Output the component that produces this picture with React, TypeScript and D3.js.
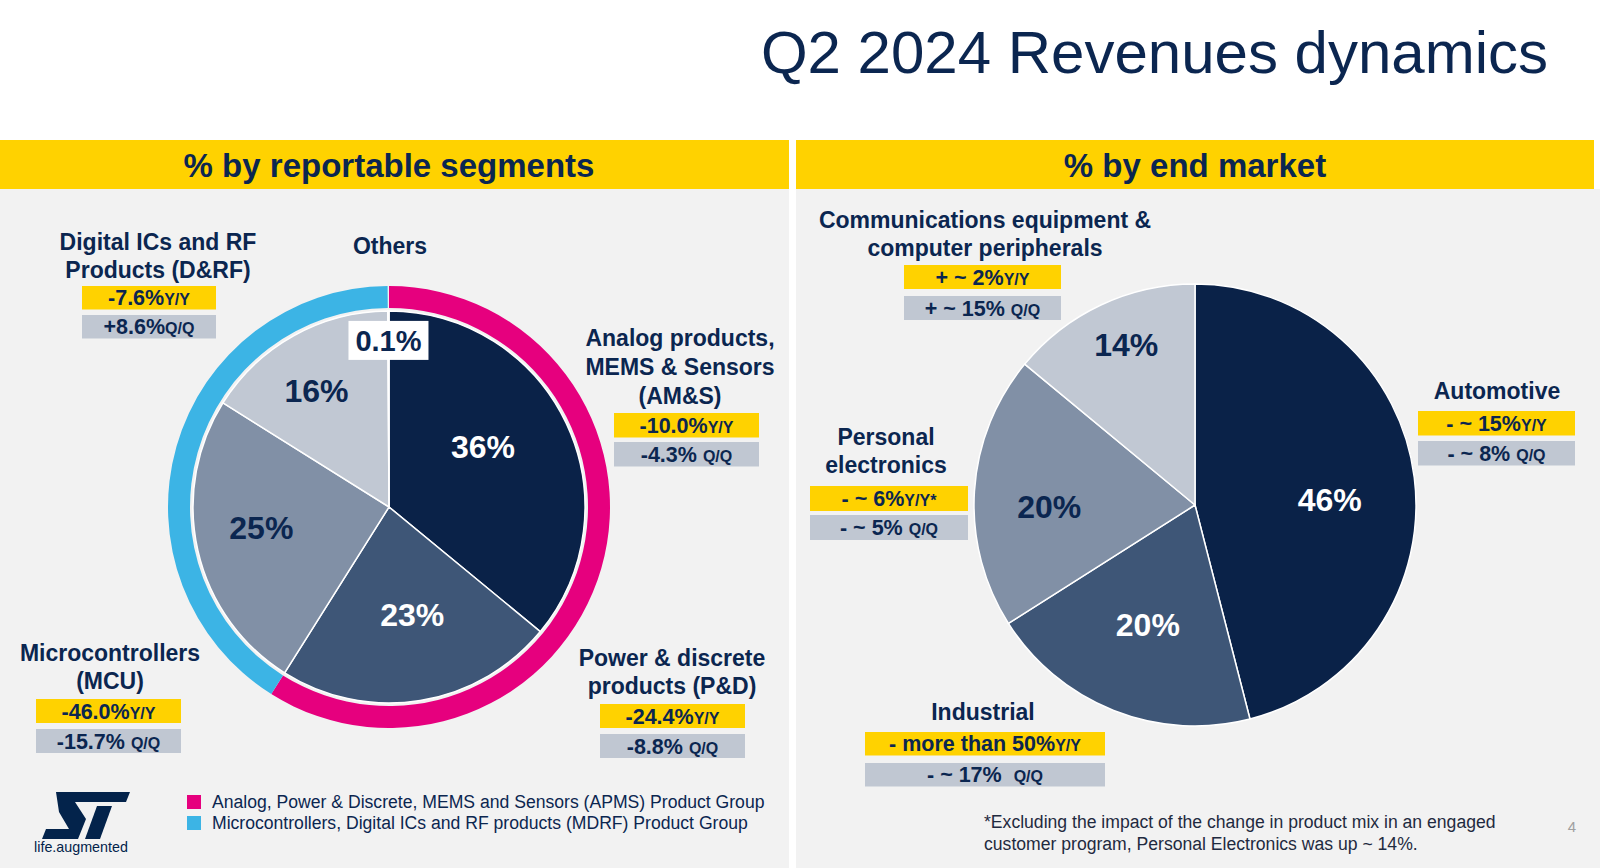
import React, { useEffect } from "react";
import * as d3 from "d3";

// ---------- DATA ----------
const segmentNames = [
  "Analog products, MEMS & Sensors (AM&S)",
  "Power & discrete products (P&D)",
  "Microcontrollers (MCU)",
  "Digital ICs and RF Products (D&RF)",
  "Others",
];
const segmentShares = [36, 23, 25, 16, 0.1];
const segmentShareLabels = ["36%", "23%", "25%", "16%", "0.1%"];
const segmentGroups = ["APMS", "APMS", "MDRF", "MDRF", ""];
const segmentYY = ["-10.0%", "-24.4%", "-46.0%", "-7.6%", ""];
const segmentQQ = ["-4.3% ", "-8.8% ", "-15.7% ", "+8.6%", ""];

const groupNames = ["APMS", "MDRF"];
const groupLegend = [
  "Analog, Power & Discrete, MEMS and Sensors (APMS) Product Group",
  "Microcontrollers, Digital ICs and RF products (MDRF) Product Group",
];

const marketNames = [
  "Automotive",
  "Industrial",
  "Personal electronics",
  "Communications equipment & computer peripherals",
];
const marketShares = [46, 20, 20, 14];
const marketShareLabels = ["46%", "20%", "20%", "14%"];
const marketYY = ["- ~ 15%", "- more than 50%", "- ~ 6%", "+ ~ 2%"];
const marketYYSuffix = ["Y/Y", "Y/Y", "Y/Y*", "Y/Y"];
const marketQQ = ["- ~ 8% ", "- ~ 17%  ", "- ~ 5% ", "+ ~ 15% "];

// ---------- STYLE ----------
const FONT = "'Liberation Sans', Arial, Helvetica, sans-serif";
const NAVY = "#0b2650";
const YELLOW = "#ffd200";
const GREYBOX = "#c0c7d2";
const PANEL = "#f2f2f2";
const sliceColors = ["#0a2248", "#3e5677", "#8190a6", "#c1c8d3", "#c1c8d3"];
const sliceTextColors = ["#ffffff", "#ffffff", NAVY, NAVY, NAVY];
const marketColors = ["#0a2248", "#3e5677", "#8190a6", "#c1c8d3"];
const marketTextColors = ["#ffffff", "#ffffff", NAVY, NAVY];
const groupColors: Record<string, string> = { APMS: "#e6007e", MDRF: "#3cb4e5" };
// label placement inside slices: radius as fraction of pie radius, angular nudge (degrees)
const segmentLabelRadius = [0.57, 0.56, 0.66, 0.7, 0.85];
const segmentLabelTurn = [-7.5, -3, 3.6, -2.8, 0];
const marketLabelRadius = [0.61, 0.58, 0.66, 0.79];
const marketLabelTurn = [5, 0, -4.3, 2];

// callout layouts (annotation placement)
const segmentCallouts = [
  { cx: 680, lines: ["Analog products,", "MEMS & Sensors", "(AM&S)"], y0: 346, lh: 29, bx: 614, bw: 145, yyTop: 413, qqTop: 442, bh: 24.5 },
  { cx: 672, lines: ["Power & discrete", "products (P&D)"], y0: 666, lh: 28, bx: 600, bw: 145, yyTop: 704, qqTop: 734, bh: 24 },
  { cx: 110, lines: ["Microcontrollers", "(MCU)"], y0: 661, lh: 28, bx: 36, bw: 145, yyTop: 699, qqTop: 729, bh: 24 },
  { cx: 158, lines: ["Digital ICs and RF", "Products (D&RF)"], y0: 250, lh: 27.5, bx: 82, bw: 134, yyTop: 286, qqTop: 315, bh: 23.5 },
  { cx: 390, lines: ["Others"], y0: 254, lh: 28, bx: 0, bw: 0, yyTop: 0, qqTop: 0, bh: 0 },
];
const marketCallouts = [
  { cx: 1497, lines: ["Automotive"], y0: 399, lh: 28, bx: 1418, bw: 157, yyTop: 411, qqTop: 441, bh: 24.5 },
  { cx: 983, lines: ["Industrial"], y0: 720, lh: 28, bx: 865, bw: 240, yyTop: 732, qqTop: 763, bh: 23.5 },
  { cx: 886, lines: ["Personal", "electronics"], y0: 445, lh: 27.5, bx: 810, bw: 158, yyTop: 486, qqTop: 515, bh: 25 },
  { cx: 985, lines: ["Communications equipment &", "computer peripherals"], y0: 227.5, lh: 28.5, bx: 904, bw: 157, yyTop: 265, qqTop: 296, bh: 24 },
];

function Callout({ c, yy, yySuffix, qq }: any) {
  return (
    <g>
      {c.lines.map((l: string, i: number) => (
        <text key={i} x={c.cx} y={c.y0 + i * c.lh} textAnchor="middle" fontSize={23} fontWeight="bold" fill={NAVY} fontFamily={FONT}>
          {l}
        </text>
      ))}
      {yy ? (
        <g>
          <rect x={c.bx} y={c.yyTop} width={c.bw} height={c.bh} fill={YELLOW} />
          <text x={c.bx + c.bw / 2} y={c.yyTop + c.bh / 2 + 7.5} textAnchor="middle" fontSize={21.5} fontWeight="bold" fill={NAVY} fontFamily={FONT} style={{ whiteSpace: "pre" }}>
            {yy}
            <tspan fontSize={16}>{yySuffix}</tspan>
          </text>
          <rect x={c.bx} y={c.qqTop} width={c.bw} height={c.bh} fill={GREYBOX} />
          <text x={c.bx + c.bw / 2} y={c.qqTop + c.bh / 2 + 7.5} textAnchor="middle" fontSize={21.5} fontWeight="bold" fill={NAVY} fontFamily={FONT} style={{ whiteSpace: "pre" }}>
            {qq}
            <tspan fontSize={16}>Q/Q</tspan>
          </text>
        </g>
      ) : null}
    </g>
  );
}

function labelPos(a: any, r: number, turnDeg: number) {
  const ang = (a.startAngle + a.endAngle) / 2 + (turnDeg * Math.PI) / 180;
  return [Math.sin(ang) * r, -Math.cos(ang) * r];
}

export default function App() {
  useEffect(() => {
    document.body.style.margin = "0";
  }, []);

  const W = 1600;
  const H = 868;

  // left pie
  const lc = { x: 389, y: 507 };
  const lR = 196;
  const pie = d3.pie<number>().sort(null).value((d) => d);
  const lArcs = pie(segmentShares);
  const lArc = d3.arc<any>().innerRadius(0).outerRadius(lR);
  const ringArc = d3.arc<any>().innerRadius(199).outerRadius(221);
  const rings = groupNames.map((g) => {
    const sl = lArcs.filter((_, i) => segmentGroups[i] === g);
    return {
      g,
      startAngle: d3.min(sl, (s) => s.startAngle) as number,
      endAngle: d3.max(sl, (s) => s.endAngle) as number,
    };
  });

  // right pie
  const rc = { x: 1195, y: 505 };
  const rR = 221;
  const rArcs = pie(marketShares);
  const rArc = d3.arc<any>().innerRadius(0).outerRadius(rR);

  return (
    <svg width={W} height={H} style={{ position: "absolute", left: 0, top: 0, display: "block" }} fontFamily={FONT}>
      <rect x={0} y={0} width={W} height={H} fill="#ffffff" />
      {/* Title */}
      <text x={1548} y={73} textAnchor="end" fontSize={60} fill={NAVY} fontFamily={FONT}>
        Q2 2024 Revenues dynamics
      </text>

      {/* Panels */}
      <rect x={0} y={189} width={789} height={H - 189} fill={PANEL} />
      <rect x={796} y={189} width={W - 796} height={H - 189} fill={PANEL} />
      <rect x={0} y={140} width={789} height={49} fill={YELLOW} />
      <rect x={796} y={140} width={798} height={49} fill={YELLOW} />
      <text x={389} y={177} textAnchor="middle" fontSize={33} fontWeight="bold" fill={NAVY}>
        % by reportable segments
      </text>
      <text x={1195} y={177} textAnchor="middle" fontSize={33} fontWeight="bold" fill={NAVY}>
        % by end market
      </text>

      {/* Left pie */}
      <g transform={`translate(${lc.x},${lc.y})`}>
        {rings.map((r) => (
          <path key={r.g} d={ringArc(r) as string} fill={groupColors[r.g]} />
        ))}
        {lArcs.map((a, i) => (
          <path key={i} d={lArc(a) as string} fill={sliceColors[i]} stroke="#ffffff" strokeWidth={1.5} />
        ))}
        {lArcs.map((a, i) => {
          const [x, y] = labelPos(a, lR * segmentLabelRadius[i], segmentLabelTurn[i]);
          if (segmentNames[i] === "Others") {
            return (
              <g key={i}>
                <rect x={x - 40} y={y - 19.5} width={80} height={39} fill="#ffffff" />
                <text x={x} y={y} dy="0.36em" textAnchor="middle" fontSize={29} fontWeight="bold" fill={NAVY}>
                  {segmentShareLabels[i]}
                </text>
              </g>
            );
          }
          return (
            <text key={i} x={x} y={y} dy="0.36em" textAnchor="middle" fontSize={32} fontWeight="bold" fill={sliceTextColors[i]}>
              {segmentShareLabels[i]}
            </text>
          );
        })}
      </g>

      {/* Right pie */}
      <g transform={`translate(${rc.x},${rc.y})`}>
        {rArcs.map((a, i) => (
          <path key={i} d={rArc(a) as string} fill={marketColors[i]} stroke="#ffffff" strokeWidth={1.5} />
        ))}
        {rArcs.map((a, i) => {
          const [x, y] = labelPos(a, rR * marketLabelRadius[i], marketLabelTurn[i]);
          return (
            <text key={i} x={x} y={y} dy="0.36em" textAnchor="middle" fontSize={32} fontWeight="bold" fill={marketTextColors[i]}>
              {marketShareLabels[i]}
            </text>
          );
        })}
      </g>

      {/* Callouts */}
      {segmentCallouts.map((c, i) => (
        <Callout key={"s" + i} c={c} yy={segmentYY[i]} yySuffix="Y/Y" qq={segmentQQ[i]} />
      ))}
      {marketCallouts.map((c, i) => (
        <Callout key={"m" + i} c={c} yy={marketYY[i]} yySuffix={marketYYSuffix[i]} qq={marketQQ[i]} />
      ))}

      {/* Legend */}
      {groupNames.map((g, i) => (
        <g key={g}>
          <rect x={187} y={795 + i * 21} width={14} height={14} fill={groupColors[g]} />
          <text x={212} y={808 + i * 21} fontSize={17.6} fill={NAVY}>
            {groupLegend[i]}
          </text>
        </g>
      ))}

      {/* ST logo */}
      <g transform="translate(42,792)" fill="#03234b">
        <path d="M 14,0 L 88,0 L 84,10 L 33,10 L 44,27 L 36,47 L 0,47 L 4,37 L 27,37 L 17,20 Z" />
        <path d="M 55,14 L 70,14 L 58,47 L 43,47 Z" />
      </g>
      <text x={81} y={852} textAnchor="middle" fontSize={14.3} fill="#03234b">
        life.augmented
      </text>

      {/* Footnote */}
      <text x={984} y={828} fontSize={17.6} fill="#1f2a40">
        *Excluding the impact of the change in product mix in an engaged
      </text>
      <text x={984} y={850} fontSize={17.6} fill="#1f2a40">
        customer program, Personal Electronics was up ~ 14%.
      </text>
      <text x={1572} y={832} textAnchor="middle" fontSize={15} fill="#a0a0a0">
        4
      </text>
    </svg>
  );
}
